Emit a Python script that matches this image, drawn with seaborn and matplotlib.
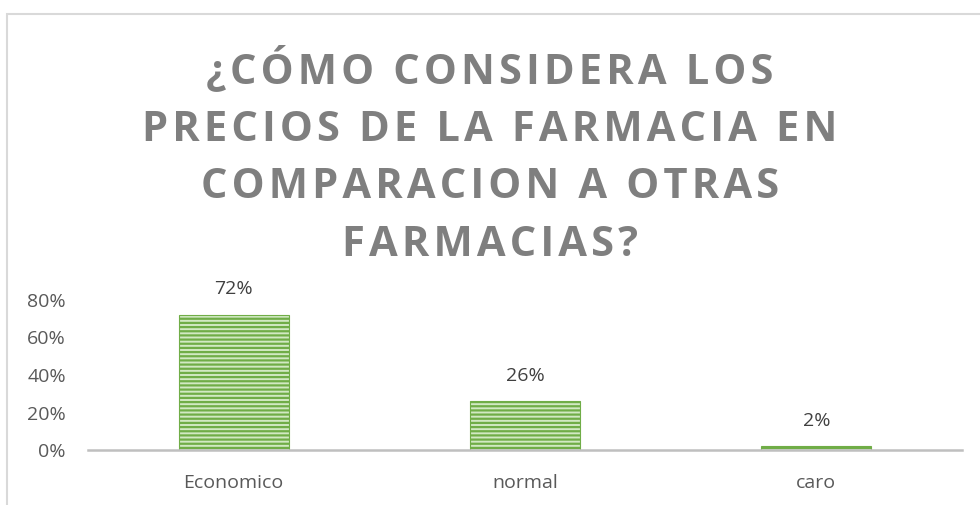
import matplotlib
matplotlib.use("Agg")
import matplotlib.pyplot as plt
import seaborn as sns
import pandas as pd
from matplotlib.patches import Rectangle
from matplotlib.ticker import PercentFormatter

categories = ["Economico", "normal", "caro"]
values = [0.72, 0.26, 0.02]
value_labels = ["72%", "26%", "2%"]
y_ticks = [0, 0.2, 0.4, 0.6, 0.8]
title_lines = ["¿CÓMO CONSIDERA LOS", "PRECIOS DE LA FARMACIA EN", "COMPARACION A OTRAS", "FARMACIAS?"]

sns.set_theme(style="white")
plt.rcParams['font.family'] = ['Open Sans', 'DejaVu Sans']
plt.rcParams['hatch.linewidth'] = 1.6
plt.rcParams['hatch.color'] = "#70ad47"

df = pd.DataFrame({"cat": categories, "val": values})

fig = plt.figure(figsize=(9.8, 5.05), dpi=100)
ax = fig.add_axes([88/980, 55/505, 874/980, 150/505])

sns.barplot(data=df, x="cat", y="val", ax=ax, width=0.378,
            color="#c9e3b8", edgecolor="#8cc06a", linewidth=0.8, hatch="----")
for p in ax.patches:
    p.set_hatch("----")
    p.set_edgecolor("#70ad47")
    p.set_facecolor("#d2e9c3")

ax.set_ylim(0, 0.8)
ax.set_xlim(-0.5, 2.5)
ax.set_yticks(y_ticks)
ax.yaxis.set_major_formatter(PercentFormatter(1.0, decimals=0))
ax.tick_params(axis='y', length=0, pad=16, labelsize=14, labelcolor="#595959")
ax.tick_params(axis='x', length=0, pad=17, labelsize=14, labelcolor="#595959")
ax.set_xlabel("")
ax.set_ylabel("")
for s in ["top", "right", "left"]:
    ax.spines[s].set_visible(False)
ax.spines["bottom"].set_color("#bfbfbf")
ax.spines["bottom"].set_linewidth(1.8)

for c, lab in zip(ax.containers, [value_labels]):
    ax.bar_label(c, labels=lab, padding=12, fontsize=14, color="#404040", clip_on=False)

hair = "\u200a"
spaced = "\n".join(hair.join(list(l)) for l in title_lines)
fig.text(0.5, (505-156)/505, spaced, ha="center", va="center", fontsize=30,
         fontweight="bold", color="#7f7f7f", linespacing=1.53,
         family=['Open Sans', 'DejaVu Sans'])

fig.patches.append(Rectangle((7/980, -0.2), 1.2, (505-14)/505 + 0.2,
                             transform=fig.transFigure, fill=False,
                             edgecolor="#d9d9d9", linewidth=1.5))

fig.savefig("out.png", dpi=100)
